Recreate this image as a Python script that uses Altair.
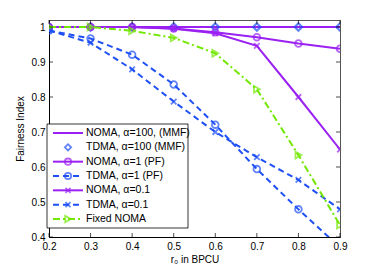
import altair as alt
import pandas as pd

r0 = [0.2, 0.3, 0.4, 0.5, 0.6, 0.7, 0.8, 0.9]

noma_mmf = [1.0, 1.0, 1.0, 1.0, 1.0, 1.0, 1.0, 1.0]
tdma_mmf = [1.0, 1.0, 1.0, 1.0, 1.0, 1.0, 1.0, 1.0]
noma_pf = [1.0, 1.0, 1.0, 0.996, 0.985, 0.971, 0.953, 0.938]
tdma_pf = [0.99, 0.967, 0.921, 0.836, 0.721, 0.594, 0.479, 0.37]
noma_01 = [1.0, 1.0, 1.0, 0.995, 0.982, 0.946, 0.80, 0.65]
tdma_01 = [0.99, 0.955, 0.879, 0.787, 0.70, 0.628, 0.563, 0.479]
fixed_noma = [1.0, 1.0, 0.989, 0.969, 0.925, 0.822, 0.634, 0.434]

labels = ["NOMA, α=100, (MMF)", "TDMA, α=100 (MMF)", "NOMA, α=1 (PF)",
          "TDMA, α=1 (PF)", "NOMA, α=0.1", "TDMA, α=0.1", "Fixed NOMA"]

PURPLE = "#9b20f2"
BLUE = "#1f50f5"
GREEN = "#72e800"
FONT = "Liberation Sans"
XSHAPE = "M-1,-1L1,1M-1,1L1,-1"

# style per series: (values, color, dash or None for no line, shape or None)
styles = [
    (noma_mmf, PURPLE, [], None),
    (tdma_mmf, BLUE, None, "diamond"),
    (noma_pf, PURPLE, [], "circle"),
    (tdma_pf, BLUE, [6, 4], "circle"),
    (noma_01, PURPLE, [], XSHAPE),
    (tdma_01, BLUE, [6, 4], XSHAPE),
    (fixed_noma, GREEN, [7, 3, 2, 3], "triangle-right"),
]

W, H = 291, 217
xs = alt.Scale(domain=[0.2, 0.9], nice=False)
ys = alt.Scale(domain=[0.4, 1.02], nice=False, zero=False)
xax = alt.Axis(values=r0, format=".1f", title="r₀ in BPCU", grid=False,
               tickSize=0, labelPadding=4, titlePadding=3, labelFlush=False)
yax = alt.Axis(values=[0.4, 0.5, 0.6, 0.7, 0.8, 0.9, 1.0], title="Fairness Index",
               grid=False, tickSize=0, labelPadding=4, titlePadding=6, labelFlush=False,
               labelExpr="datum.value == 1 ? '1' : format(datum.value, '.1f')")

layers = []
for i, (vals, color, dash, shape) in enumerate(styles):
    df = pd.DataFrame({"r0": r0, "fi": vals, "series": labels[i]})
    base = alt.Chart(df).encode(
        x=alt.X("r0:Q", scale=xs, axis=xax),
        y=alt.Y("fi:Q", scale=ys, axis=yax),
    )
    if dash is not None:
        layers.append(base.mark_line(color=color, strokeWidth=2, strokeDash=dash, clip=True))
    if shape is not None:
        sz = 30 if shape == XSHAPE else (55 if shape == "diamond" else 45)
        sw = 2.2 if shape == "diamond" else 1.8
        layers.append(base.mark_point(shape=shape, color=color, filled=False, size=sz,
                                      strokeWidth=sw, clip=True))

# inward tick marks (left/right and bottom/top)
ytick_df = pd.DataFrame({"v": [0.4, 0.5, 0.6, 0.7, 0.8, 0.9, 1.0]})
xtick_df = pd.DataFrame({"v": r0})
for x0, x1 in [(0, 4), (W - 4, W)]:
    layers.append(alt.Chart(ytick_df).mark_rule(color="black", strokeWidth=0.7).encode(
        y=alt.Y("v:Q", scale=ys, axis=yax), x=alt.value(x0), x2=alt.value(x1)))
for y0, y1 in [(H - 4, H), (0, 4)]:
    layers.append(alt.Chart(xtick_df).mark_rule(color="black", strokeWidth=0.7).encode(
        x=alt.X("v:Q", scale=xs, axis=xax), y=alt.value(y0), y2=alt.value(y1)))

plot = alt.layer(*layers)

# legend
box = alt.Chart(pd.DataFrame({"a": [0]})).mark_rect(
    fill="white", stroke="black", strokeWidth=0.8).encode(
    x=alt.value(-2), x2=alt.value(139), y=alt.value(104), y2=alt.value(208))
leg_layers = [box]
ly = alt.Scale(domain=[0, 6], range=[113, 199])
for i, (vals, color, dash, shape) in enumerate(styles):
    ldf = pd.DataFrame({"row": [i], "label": [labels[i]]})
    b = alt.Chart(ldf).encode(y=alt.Y("row:Q", scale=ly, axis=None))
    if dash is not None:
        leg_layers.append(b.mark_rule(color=color, strokeWidth=2, strokeDash=dash).encode(
            x=alt.value(4), x2=alt.value(34)))
    if shape is not None:
        sz = 25 if shape == XSHAPE else 40
        leg_layers.append(b.mark_point(shape=shape, color=color, filled=False, size=sz,
                                       strokeWidth=1.8).encode(x=alt.value(19)))
    leg_layers.append(b.mark_text(align="left", baseline="middle", font=FONT, fontSize=10.5,
                                  color="black").encode(x=alt.value(37), text="label:N"))
legend = alt.layer(*leg_layers)

chart = alt.layer(plot, legend).resolve_scale(y="independent", x="independent").properties(
    width=W, height=H,
    autosize=alt.AutoSizeParams(type="none"),
    padding={"left": 41, "top": 12, "right": 26, "bottom": 31},
).configure_view(stroke="#555", strokeWidth=1).configure_axis(
    domainColor="black", labelFont=FONT, titleFont=FONT, labelFontSize=10,
    titleFontSize=10, titleFontWeight="normal", labelColor="black", titleColor="black",
)

chart.save("out.html", embed_options={"renderer": "svg", "actions": False})
